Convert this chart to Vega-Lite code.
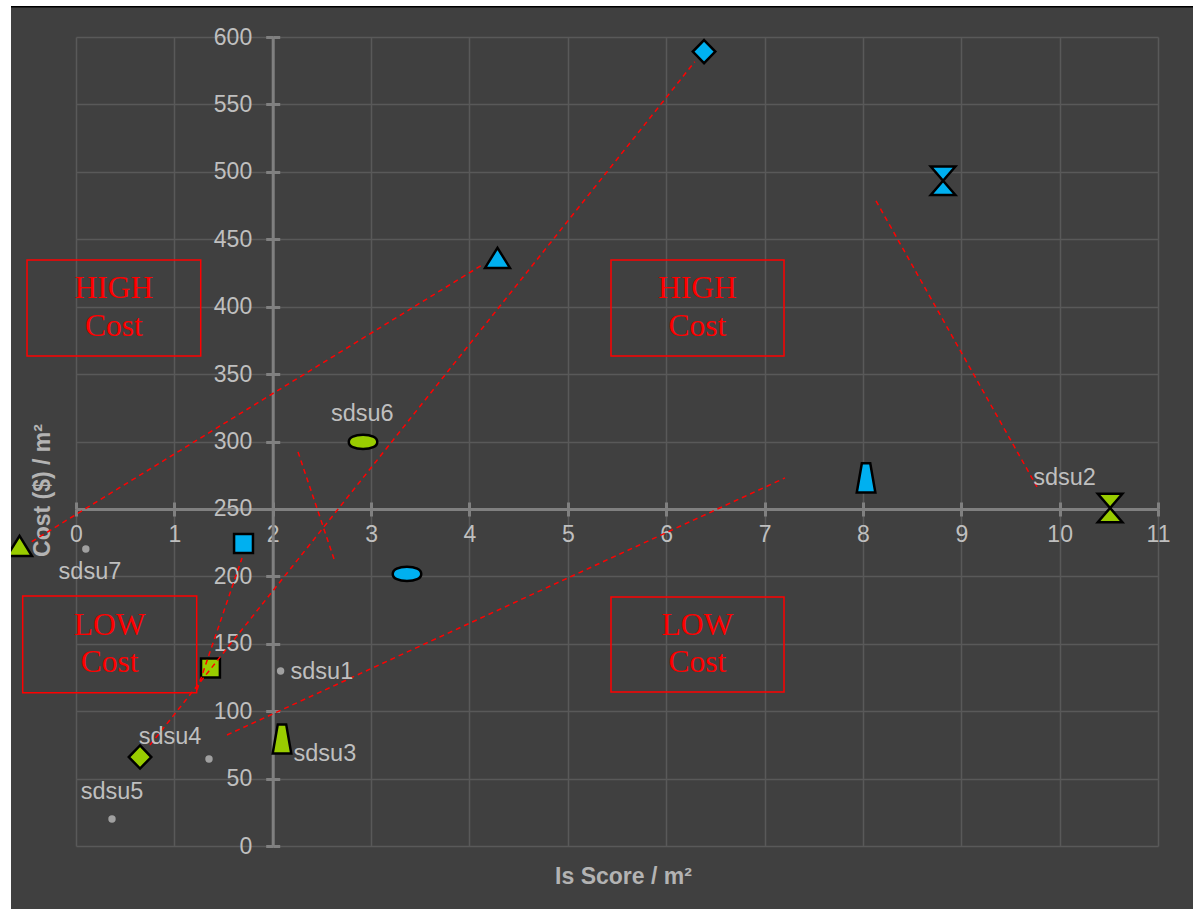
{
  "$schema": "https://vega.github.io/schema/vega-lite/v6.json",
  "width": 1082,
  "height": 809,
  "autosize": {"type": "none"},
  "padding": {"left": 76, "top": 37, "right": 35, "bottom": 63},
  "background": "#404040",
  "config": {"view": {"stroke": null}, "font": "Liberation Sans"},
  "datasets": {
    "pts": [
      {"x": -0.574, "y": 222.5, "grp": "green", "shp": "triangle"},
      {"x": 1.703, "y": 224.4, "grp": "blue", "shp": "square"},
      {"x": 1.367, "y": 132, "grp": "green", "shp": "square"},
      {"x": 0.651, "y": 66, "grp": "green", "shp": "diamond"},
      {"x": 2.094, "y": 79.4, "grp": "green", "shp": "trapezoid"},
      {"x": 2.918, "y": 299.7, "grp": "green", "shp": "blob"},
      {"x": 3.365, "y": 201.8, "grp": "blue", "shp": "blob"},
      {"x": 4.285, "y": 436.2, "grp": "blue", "shp": "triangle"},
      {"x": 6.385, "y": 589.2, "grp": "blue", "shp": "diamond"},
      {"x": 8.815, "y": 493.4, "grp": "blue", "shp": "hourglass"},
      {"x": 8.032, "y": 273, "grp": "blue", "shp": "trapezoid"},
      {"x": 10.513, "y": 250.7, "grp": "green", "shp": "hourglass"}
    ],
    "dots": [
      {"x": 0.10, "y": 220.3},
      {"x": 0.366, "y": 20},
      {"x": 1.352, "y": 64.5},
      {"x": 2.08, "y": 129.8}
    ],
    "lbl": [
      {"x": 0.142, "y": 203.3, "t": "sdsu7"},
      {"x": 0.366, "y": 40, "t": "sdsu5"},
      {"x": 0.956, "y": 80.9, "t": "sdsu4"},
      {"x": 2.5, "y": 129, "t": "sdsu1"},
      {"x": 2.53, "y": 68.2, "t": "sdsu3"},
      {"x": 2.91, "y": 320.5, "t": "sdsu6"},
      {"x": 10.05, "y": 273, "t": "sdsu2"}
    ],
    "lines": [
      {"id": "L1", "o": 0, "x": -0.45, "y": 225.7},
      {"id": "L1", "o": 1, "x": 4.13, "y": 431},
      {"id": "L2", "o": 0, "x": 0.752, "y": 74.9},
      {"id": "L2", "o": 1, "x": 6.29, "y": 581.6},
      {"id": "L3", "o": 0, "x": 1.23, "y": 115.7},
      {"id": "L3", "o": 1, "x": 1.688, "y": 213.6},
      {"id": "L4", "o": 0, "x": 1.535, "y": 82.3},
      {"id": "L4", "o": 1, "x": 7.208, "y": 273},
      {"id": "L5", "o": 0, "x": 2.257, "y": 292.3},
      {"id": "L5", "o": 1, "x": 2.633, "y": 210.7},
      {"id": "L6", "o": 0, "x": 8.133, "y": 478.5},
      {"id": "L6", "o": 1, "x": 9.77, "y": 266.3}
    ],
    "boxes": [
      {"x": -0.498, "x2": 1.268, "y": 434.7, "y2": 363.5},
      {"x": 5.439, "x2": 7.198, "y": 434.7, "y2": 363.5},
      {"x": -0.542, "x2": 1.227, "y": 185.5, "y2": 113.7},
      {"x": 5.439, "x2": 7.198, "y": 184.7, "y2": 114.2}
    ],
    "btxt": [
      {"x": 0.385, "y": 413.2, "t": "HIGH"},
      {"x": 0.385, "y": 385, "t": "Cost"},
      {"x": 6.318, "y": 413.2, "t": "HIGH"},
      {"x": 6.318, "y": 385, "t": "Cost"},
      {"x": 0.342, "y": 163.2, "t": "LOW"},
      {"x": 0.342, "y": 135.8, "t": "Cost"},
      {"x": 6.318, "y": 163.2, "t": "LOW"},
      {"x": 6.318, "y": 135.8, "t": "Cost"}
    ]
  },
  "layer": [
    {
      "layer": [
        {
          "data": {"name": "boxes"},
          "mark": {"type": "rect", "fill": "transparent", "stroke": "#ff0000", "strokeWidth": 1.5},
          "encoding": {
            "x": {"field": "x", "type": "quantitative", "scale": {"domain": [0, 11], "nice": false, "zero": false}},
            "x2": {"field": "x2"},
            "y": {"field": "y", "type": "quantitative", "scale": {"domain": [0, 600], "nice": false}},
            "y2": {"field": "y2"}
          }
        },
        {
          "data": {"name": "btxt"},
          "mark": {"type": "text", "font": "Liberation Serif", "fontSize": 31.5, "color": "#ff0000", "align": "center", "baseline": "middle"},
          "encoding": {
            "x": {"field": "x", "type": "quantitative"},
            "y": {"field": "y", "type": "quantitative"},
            "text": {"field": "t"}
          }
        },
        {
          "data": {"name": "dots"},
          "mark": {"type": "circle", "size": 55, "color": "#a0a0a0", "opacity": 1},
          "encoding": {
            "x": {"field": "x", "type": "quantitative"},
            "y": {"field": "y", "type": "quantitative"}
          }
        },
        {
          "data": {"name": "pts"},
          "mark": {"type": "point", "filled": true, "size": 900, "stroke": "#000000", "strokeWidth": 2.5, "opacity": 1},
          "encoding": {
            "x": {
              "field": "x", "type": "quantitative",
              "axis": {
                "orient": "bottom", "offset": -337, "values": [0,1,2,3,4,5,6,7,8,9,10,11], "format": "d",
                "domainColor": "#808080", "domainWidth": 3,
                "tickColor": "#808080", "tickWidth": 3, "tickSize": 7,
                "grid": true, "gridColor": "#595959", "gridWidth": 1.5,
                "labelColor": "#bfbfbf", "labelFontSize": 23, "labelPadding": 7,
                "labelFlush": false, "labelOverlap": false,
                "title": "Is Score / m²", "titleColor": "#b3b3b3", "titleFontSize": 23, "titleFontWeight": "bold",
                "titleX": 547, "titleY": 367, "titleAlign": "center", "titleBaseline": "middle", "titleAnchor": null
              }
            },
            "y": {
              "field": "y", "type": "quantitative",
              "axis": {
                "orient": "left", "offset": -196.7, "values": [0,50,100,150,200,250,300,350,400,450,500,550,600], "format": "d",
                "domainColor": "#808080", "domainWidth": 3,
                "tickColor": "#808080", "tickWidth": 3, "tickSize": 7,
                "grid": true, "gridColor": "#595959", "gridWidth": 1.5,
                "labelColor": "#bfbfbf", "labelFontSize": 23, "labelPadding": 14,
                "labelFlush": false, "labelOverlap": false,
                "title": "Cost ($) / m²", "titleColor": "#b3b3b3", "titleFontSize": 23, "titleFontWeight": "bold",
                "titleX": -230.7, "titleY": 453, "titleAngle": -90, "titleAlign": "center", "titleBaseline": "middle", "titleAnchor": null
              }
            },
            "fill": {"field": "grp", "type": "nominal", "scale": {"domain": ["blue", "green"], "range": ["#00b0f0", "#99cc00"]}, "legend": null},
            "shape": {
              "field": "shp", "type": "nominal", "legend": null,
              "scale": {
                "domain": ["triangle", "square", "diamond", "trapezoid", "hourglass", "blob"],
                "range": [
                  "M0,-0.67L0.83,0.67L-0.83,0.67Z",
                  "M-0.63,-0.63L0.63,-0.63L0.63,0.63L-0.63,0.63Z",
                  "M0,-0.77L0.75,0L0,0.77L-0.75,0Z",
                  "M-0.28,-0.97L0.28,-0.97L0.62,0.97L-0.62,0.97Z",
                  "M-0.82,-0.95L0.82,-0.95L-0.82,0.95L0.82,0.95Z",
                  "M-0.95,0C-0.95,-0.3 -0.55,-0.48 0,-0.48C0.55,-0.48 0.95,-0.3 0.95,0C0.95,0.3 0.55,0.48 0,0.48C-0.55,0.48 -0.95,0.3 -0.95,0Z"
                ]
              }
            }
          }
        },
        {
          "data": {"name": "lines"},
          "mark": {"type": "line", "color": "#ff0000", "strokeWidth": 1.5, "strokeDash": [5, 4]},
          "encoding": {
            "x": {"field": "x", "type": "quantitative"},
            "y": {"field": "y", "type": "quantitative"},
            "detail": {"field": "id"},
            "order": {"field": "o"}
          }
        },
        {
          "data": {"name": "lbl"},
          "mark": {"type": "text", "fontSize": 23.5, "color": "#bfbfbf", "align": "center", "baseline": "middle"},
          "encoding": {
            "x": {"field": "x", "type": "quantitative"},
            "y": {"field": "y", "type": "quantitative"},
            "text": {"field": "t"}
          }
        },
        {
          "data": {"values": [{}]},
          "mark": {"type": "rect", "color": "#ffffff"},
          "encoding": {
            "x": {"datum": -0.78, "type": "quantitative"},
            "x2": {"datum": -0.6608},
            "y": {"datum": -47, "type": "quantitative"},
            "y2": {"datum": 628}
          }
        },
        {
          "data": {"values": [{}]},
          "mark": {"type": "rect", "color": "#ffffff"},
          "encoding": {
            "x": {"datum": -0.78, "type": "quantitative"},
            "x2": {"datum": 11.4},
            "y": {"datum": 622.9, "type": "quantitative"},
            "y2": {"datum": 628}
          }
        },
        {
          "data": {"values": [{}]},
          "mark": {"type": "rule", "color": "#000000", "strokeWidth": 1.5},
          "encoding": {
            "x": {"datum": -0.6608, "type": "quantitative"},
            "x2": {"datum": 11.4},
            "y": {"datum": 622.5, "type": "quantitative"}
          }
        }
      ]
    },
    {
      "data": {"name": "pts"},
      "mark": {"type": "point", "opacity": 0},
      "encoding": {
        "x": {
          "field": "x", "type": "quantitative",
          "axis": {"orient": "bottom", "offset": -337, "values": [0,1,2,3,4,5,6,7,8,9,10,11], "domain": false, "grid": false, "labels": false, "tickColor": "#808080", "tickWidth": 3, "tickSize": -7, "title": null}
        },
        "y": {
          "field": "y", "type": "quantitative",
          "axis": {"orient": "left", "offset": -196.7, "values": [0,50,100,150,200,250,300,350,400,450,500,550,600], "domain": false, "grid": false, "labels": false, "tickColor": "#808080", "tickWidth": 3, "tickSize": -7, "title": null}
        }
      }
    }
  ],
  "resolve": {"axis": {"x": "independent", "y": "independent"}}
}
